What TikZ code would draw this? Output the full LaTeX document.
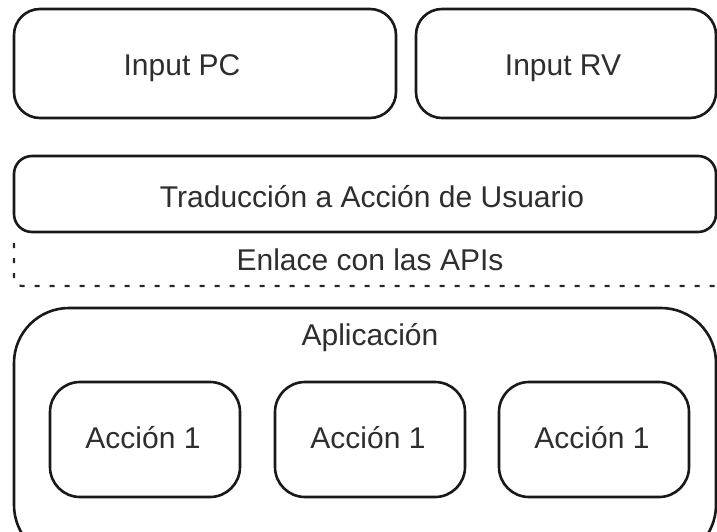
\documentclass[tikz,border=0pt]{standalone}
\usepackage{fontspec}
\setmainfont{Liberation Sans}
\begin{document}
\begin{tikzpicture}[x=1pt,y=-1pt,
  box/.style={draw=black!90, line width=2.6pt, rounded corners=#1},
  lbl/.style={font=\fontsize{30}{34}\selectfont, text=black!82, inner sep=0pt, anchor=base}]
\useasboundingbox[fill=white] (0,0) rectangle (717,531);
% top boxes
\draw[box=26pt] (14,9) rectangle (396,118);
\node[lbl] (pc) at (182,75) {Input PC};
\draw[box=26pt] (416,9) rectangle (716,118);
\node[lbl] (rv) at (563,75) {Input RV};
% translation layer
\draw[box=18pt] (14,156) rectangle (716,232);
\node[lbl] (trad) at (372,207) {Traducción a Acción de Usuario};
% API link (dashed)
\draw[line width=2.2pt, dash pattern=on 5pt off 10pt, black!85, rounded corners=8pt]
  (14,243) -- (14,286) -- (740,286);
\node[lbl] (enl) at (370,270) {Enlace con las APIs};
% application
\draw[box=55pt] (14,308) rectangle (716,560);
\node[lbl] (app) at (370,345) {Aplicación};
\draw[box=30pt] (50,382) rectangle (240,497);
\node[lbl] (a1) at (143,448) {Acción 1};
\draw[box=30pt] (275,382) rectangle (465,497);
\node[lbl] (a2) at (368,448) {Acción 1};
\draw[box=30pt] (499,382) rectangle (689,497);
\node[lbl] (a3) at (592,448) {Acción 1};
\end{tikzpicture}
\end{document}
